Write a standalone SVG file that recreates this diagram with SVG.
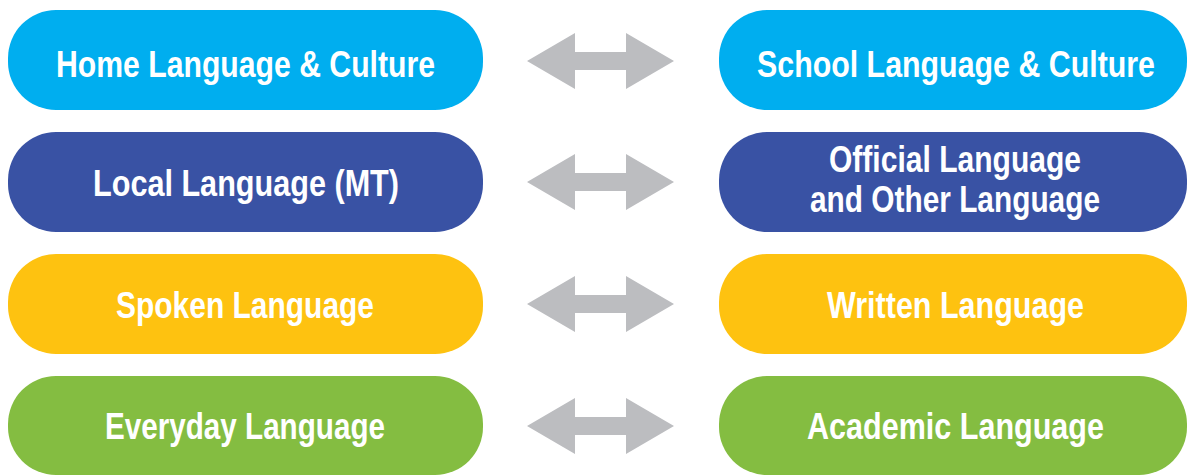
<svg xmlns="http://www.w3.org/2000/svg" width="1187" height="475" viewBox="0 0 1187 475">
<style>
.t{font-family:"Liberation Sans",Arial,sans-serif;font-weight:bold;font-size:37px;fill:#fff;text-anchor:middle}
.c1{fill:#00AEEF}.c2{fill:#3952A4}.c3{fill:#FEC210}.c4{fill:#84BD41}
.ar{fill:#BCBDC0}
</style>
<defs>
<path id="arr" d="M527,0 L575,-28 L575,-9 L626,-9 L626,-28 L674,0 L626,28 L626,9 L575,9 L575,28 Z"/>
</defs>
<rect width="1187" height="475" fill="#fff"/>
<g id="home"><rect class="c1" x="8" y="10" width="475" height="100" rx="48"/><text class="t" x="245.5" y="77" textLength="379" lengthAdjust="spacingAndGlyphs">Home Language &amp; Culture</text></g>
<g id="school"><rect class="c1" x="719" y="10" width="468" height="100" rx="48"/><text class="t" x="956" y="77" textLength="398" lengthAdjust="spacingAndGlyphs">School Language &amp; Culture</text></g>
<g id="local"><rect class="c2" x="8" y="132" width="475" height="100" rx="48"/><text class="t" x="246" y="196" textLength="306" lengthAdjust="spacingAndGlyphs">Local Language (MT)</text></g>
<g id="official"><rect class="c2" x="719" y="132" width="468" height="100" rx="48"/><text class="t" x="955" y="172" textLength="252" lengthAdjust="spacingAndGlyphs">Official Language</text><text class="t" x="955" y="212" textLength="290" lengthAdjust="spacingAndGlyphs">and Other Language</text></g>
<g id="spoken"><rect class="c3" x="8" y="254" width="475" height="100" rx="48"/><text class="t" x="245" y="318" textLength="258" lengthAdjust="spacingAndGlyphs">Spoken Language</text></g>
<g id="written"><rect class="c3" x="719" y="254" width="468" height="100" rx="48"/><text class="t" x="955.5" y="318" textLength="257" lengthAdjust="spacingAndGlyphs">Written Language</text></g>
<g id="everyday"><rect class="c4" x="8" y="376" width="475" height="99" rx="48"/><text class="t" x="245" y="439" textLength="280" lengthAdjust="spacingAndGlyphs">Everyday Language</text></g>
<g id="academic"><rect class="c4" x="719" y="376" width="468" height="99" rx="48"/><text class="t" x="955.5" y="439" textLength="297" lengthAdjust="spacingAndGlyphs">Academic Language</text></g>
<g id="connectors" class="ar">
<use href="#arr" y="61"/>
<use href="#arr" y="182"/>
<use href="#arr" y="304"/>
<use href="#arr" y="426"/>
</g>
</svg>
